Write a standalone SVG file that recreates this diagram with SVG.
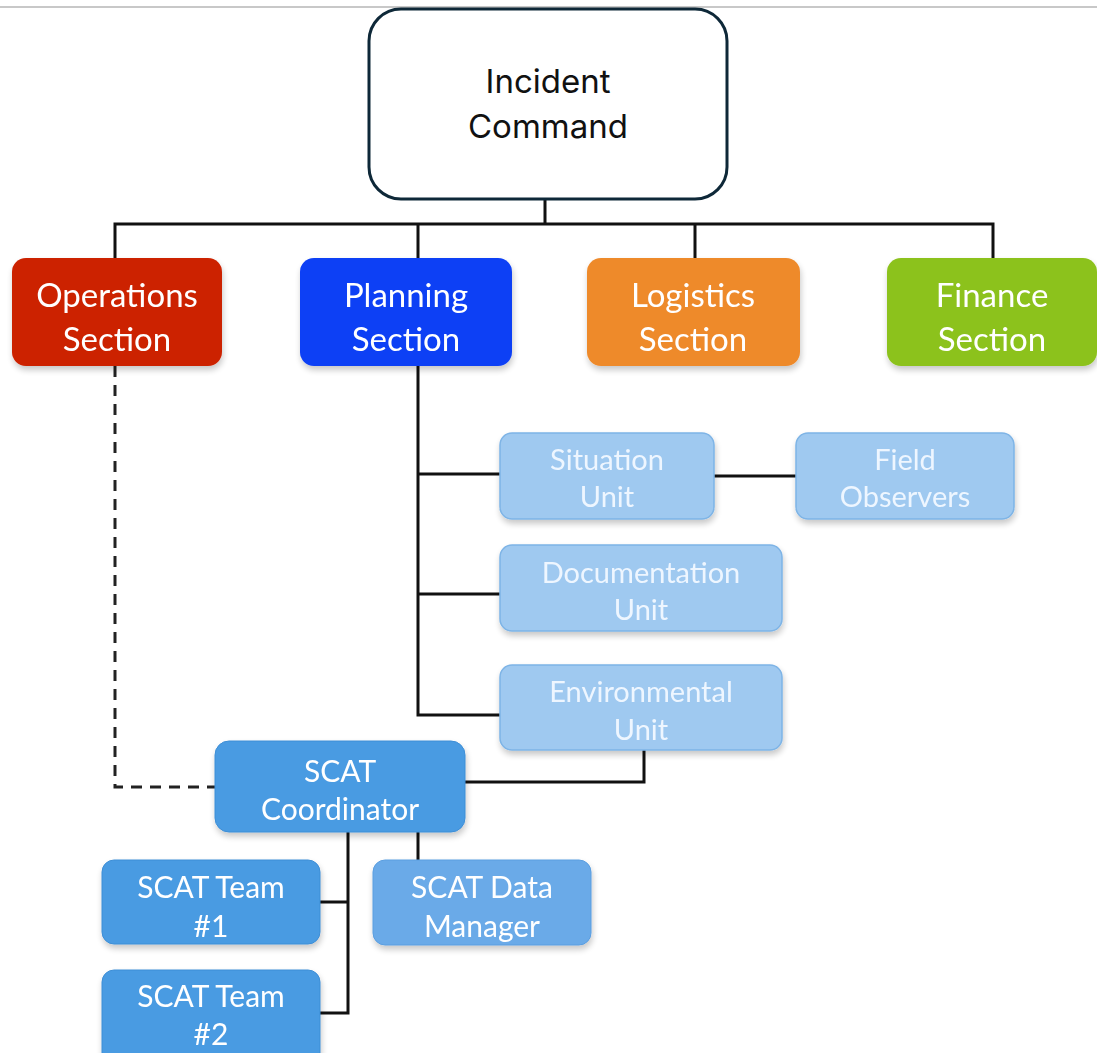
<svg xmlns="http://www.w3.org/2000/svg" width="1097" height="1053" viewBox="0 0 1097 1053">
  <defs>
    <filter id="shadow" x="-10%" y="-10%" width="125%" height="135%">
      <feGaussianBlur in="SourceAlpha" stdDeviation="3"/>
      <feOffset dx="1" dy="4" result="b"/>
      <feComponentTransfer><feFuncA type="linear" slope="0.22"/></feComponentTransfer>
      <feMerge><feMergeNode/><feMergeNode in="SourceGraphic"/></feMerge>
    </filter>
  </defs>
  <style>
    .lbl { font-family: Lato, "Open Sans", sans-serif; fill: #ffffff; text-anchor: middle; }
    .sec { font-size: 33px; }
    .unit { font-size: 29px; fill: #eef6ff; }
    .team { font-size: 30px; }
    .conn { stroke: #111111; stroke-width: 3; fill: none; stroke-linejoin: miter; }
    .dash { stroke: #222222; stroke-width: 3; fill: none; stroke-dasharray: 11 8; }
    .lightbox { fill: #9fc9f0; stroke: #7eb4e6; stroke-width: 1.5; }
    .scatbox { fill: #4a9be2; stroke: #3d8ed6; stroke-width: 1; }
  </style>

  <rect width="1097" height="1053" fill="#ffffff"/>
  <line x1="0" y1="7" x2="1097" y2="7" stroke="#c8c8c8" stroke-width="2"/>

  <!-- connectors -->
  <g id="connectors">
    <path class="conn" d="M545 200 V224 M115 258 V224 H993 V258 M418 224 V258 M695 224 V258"/>
    <path class="conn" d="M418 366 V715 H500 M418 474 H500 M418 594 H500"/>
    <path class="conn" d="M714 476 H796"/>
    <path class="conn" d="M644 750 V782 H465"/>
    <path class="conn" d="M348 832 V1013 H320 M348 902 H320"/>
    <path class="conn" d="M418 832 V860"/>
    <path class="dash" d="M115 366 V787 H215"/>
  </g>

  <g id="incident-command">
    <rect x="369" y="9" width="358" height="190" rx="32" fill="#ffffff" stroke="#0e2838" stroke-width="3"/>
    <text x="548" y="93" font-family="Inter, 'Noto Sans', sans-serif" font-size="33" fill="#111111" text-anchor="middle">Incident</text>
    <text x="548" y="138" font-family="Inter, 'Noto Sans', sans-serif" font-size="33" fill="#111111" text-anchor="middle">Command</text>
  </g>

  <g id="operations-section" filter="url(#shadow)">
    <rect x="12" y="258" width="210" height="108" rx="14" fill="#cc2200"/>
    <text class="lbl sec" x="117" y="307">Operations</text>
    <text class="lbl sec" x="117" y="351">Section</text>
  </g>

  <g id="planning-section" filter="url(#shadow)">
    <rect x="300" y="258" width="212" height="108" rx="14" fill="#0a3ff5"/>
    <text class="lbl sec" x="406" y="307">Planning</text>
    <text class="lbl sec" x="406" y="351">Section</text>
  </g>

  <g id="logistics-section" filter="url(#shadow)">
    <rect x="587" y="258" width="213" height="108" rx="14" fill="#ee8a2c"/>
    <text class="lbl sec" x="693" y="307">Logistics</text>
    <text class="lbl sec" x="693" y="351">Section</text>
  </g>

  <g id="finance-section" filter="url(#shadow)">
    <rect x="887" y="258" width="210" height="108" rx="14" fill="#8cc21c"/>
    <text class="lbl sec" x="992" y="307">Finance</text>
    <text class="lbl sec" x="992" y="351">Section</text>
  </g>

  <g id="situation-unit" filter="url(#shadow)">
    <rect class="lightbox" x="500" y="433" width="214" height="86" rx="12"/>
    <text class="lbl unit" x="607" y="470">Situation</text>
    <text class="lbl unit" x="607" y="507">Unit</text>
  </g>

  <g id="field-observers" filter="url(#shadow)">
    <rect class="lightbox" x="796" y="433" width="218" height="86" rx="12"/>
    <text class="lbl unit" x="905" y="470">Field</text>
    <text class="lbl unit" x="905" y="507">Observers</text>
  </g>

  <g id="documentation-unit" filter="url(#shadow)">
    <rect class="lightbox" x="500" y="545" width="282" height="86" rx="12"/>
    <text class="lbl unit" x="641" y="583">Documentation</text>
    <text class="lbl unit" x="641" y="620">Unit</text>
  </g>

  <g id="environmental-unit" filter="url(#shadow)">
    <rect class="lightbox" x="500" y="665" width="282" height="85" rx="12"/>
    <text class="lbl unit" x="641" y="702">Environmental</text>
    <text class="lbl unit" x="641" y="740">Unit</text>
  </g>

  <g id="scat-coordinator" filter="url(#shadow)">
    <rect class="scatbox" x="215" y="741" width="250" height="91" rx="14"/>
    <text class="lbl team" x="340" y="782">SCAT</text>
    <text class="lbl team" x="340" y="820">Coordinator</text>
  </g>

  <g id="scat-team-1" filter="url(#shadow)">
    <rect class="scatbox" x="102" y="860" width="218" height="84" rx="12"/>
    <text class="lbl team" x="211" y="898">SCAT Team</text>
    <text class="lbl team" x="211" y="937">#1</text>
  </g>

  <g id="scat-team-2" filter="url(#shadow)">
    <rect class="scatbox" x="102" y="970" width="218" height="100" rx="12"/>
    <text class="lbl team" x="211" y="1007">SCAT Team</text>
    <text class="lbl team" x="211" y="1045">#2</text>
  </g>

  <g id="scat-data-manager" filter="url(#shadow)">
    <rect x="373" y="860" width="218" height="85" rx="12" fill="#6aaae8" stroke="#5a9ee0" stroke-width="1"/>
    <text class="lbl team" x="482" y="898">SCAT Data</text>
    <text class="lbl team" x="482" y="937">Manager</text>
  </g>
</svg>
